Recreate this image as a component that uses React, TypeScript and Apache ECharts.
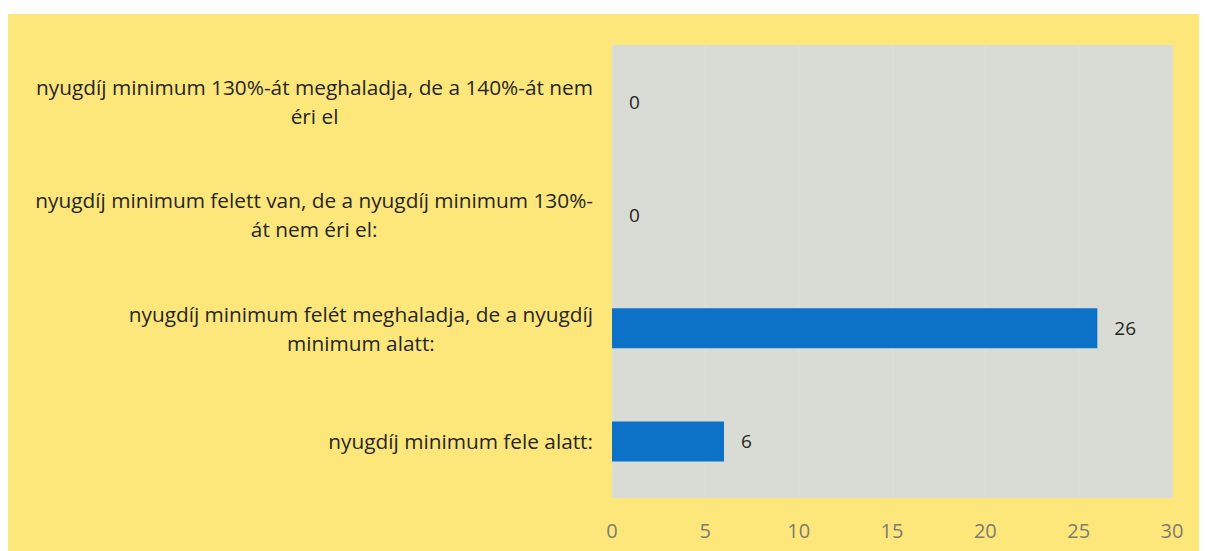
import React, { useEffect, useRef } from "react";
import * as echarts from "echarts";

const categories = [
  "nyugdíj minimum fele alatt:",
  "nyugdíj minimum felét meghaladja, de a nyugdíj\nminimum alatt:",
  "nyugdíj minimum felett van, de a nyugdíj minimum 130%-\nát nem éri el:",
  "nyugdíj minimum 130%-át meghaladja, de a 140%-át nem\néri el",
];
const values = [6, 26, 0, 0];
const xTicks = [0, 5, 10, 15, 20, 25, 30];

const FONT = "'Open Sans', 'Noto Sans', sans-serif";

export default function App() {
  const ref = useRef<HTMLDivElement>(null);
  useEffect(() => {
    if (!ref.current) return;
    const chart = echarts.init(ref.current, undefined, { renderer: "svg" });
    chart.setOption({
      animation: false,
      backgroundColor: "#ffffff",
      graphic: [
        {
          type: "rect",
          z: -10,
          silent: true,
          shape: { x: 0, y: 6, width: 1199, height: 540 },
          style: { fill: "#fde77b" },
        },
      ],
      grid: {
        left: 604,
        top: 37,
        width: 560,
        height: 453,
        show: true,
        backgroundColor: "#d9dbd5",
        borderWidth: 0,
      },
      xAxis: {
        type: "value",
        min: xTicks[0],
        max: xTicks[xTicks.length - 1],
        interval: 5,
        axisLine: { show: false },
        axisTick: { show: false },
        splitLine: { show: true, lineStyle: { color: "#dddfda", width: 1 } },
        axisLabel: {
          margin: 22,
          fontSize: 20,
          fontFamily: FONT,
          color: "#7d7c70",
        },
      },
      yAxis: {
        type: "category",
        data: categories,
        axisLine: { show: false },
        axisTick: { show: false },
        axisLabel: {
          margin: 19,
          align: "right",
          formatter: (v: string) =>
            v
              .split("\n")
              .map((l) => `{c|${l}}`)
              .join("\n"),
          rich: {
            c: {
              align: "center",
              fontSize: 20.8,
              lineHeight: 29,
              fontFamily: FONT,
              color: "#262626",
            },
          },
        },
      },
      series: [
        {
          type: "bar",
          data: values,
          barWidth: 40,
          itemStyle: { color: "#0b72c8" },
          label: {
            show: true,
            position: "right",
            distance: 17,
            fontSize: 19,
            fontFamily: FONT,
            color: "#262626",
          },
        },
      ],
    });
    return () => chart.dispose();
  }, []);
  return <div ref={ref} style={{ width: 1199, height: 543 }} />;
}
